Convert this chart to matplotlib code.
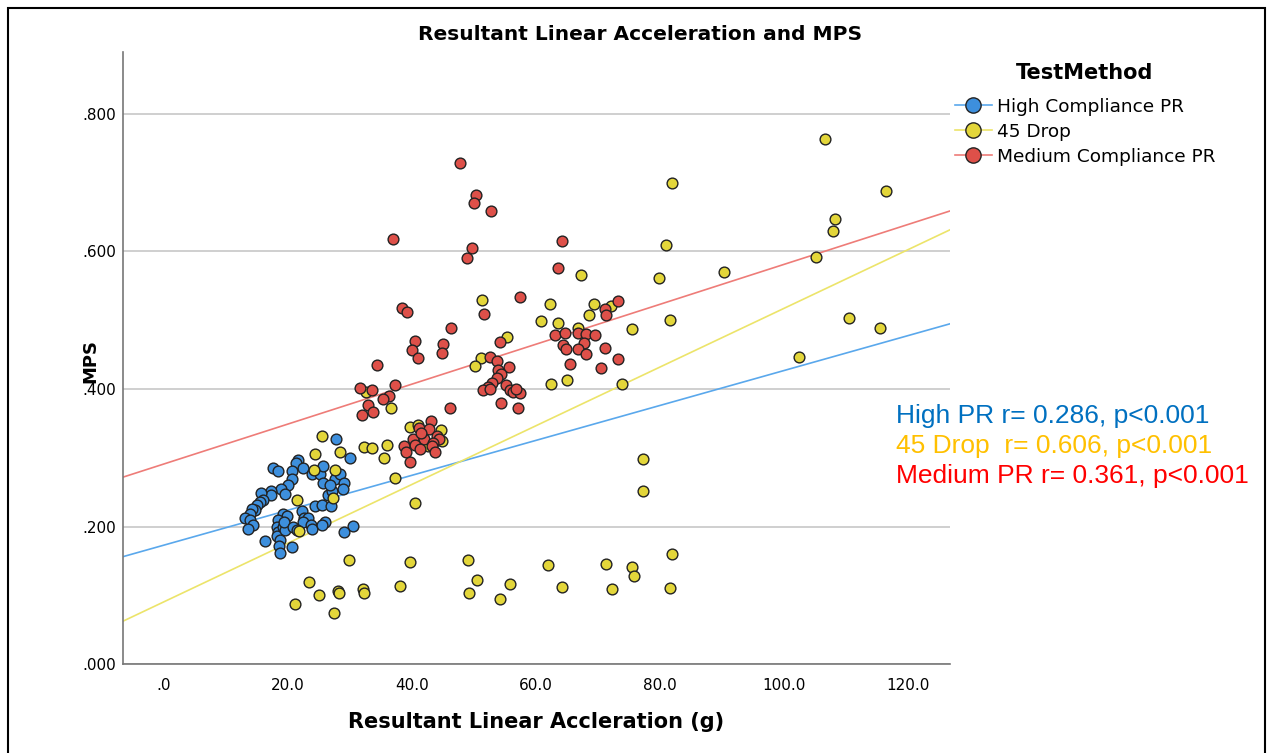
import matplotlib
matplotlib.use("Agg")
import matplotlib.pyplot as plt
import numpy as np
from matplotlib.lines import Line2D
from matplotlib.patches import Rectangle
from matplotlib.ticker import FuncFormatter

# High Compliance PR
high_x = [27.85, 30.0, 21.66, 21.29, 17.53, 18.44, 20.6, 22.47, 23.82, 25.16, 25.6, 28.11,
          20.6, 20.05, 18.82, 19.52, 17.21, 17.21, 15.6, 15.92, 15.48, 14.95, 14.68, 14.15,
          13.87, 13.06, 13.87, 14.31, 13.6, 16.29, 19.24, 19.79, 18.44, 18.18, 18.44, 18.27,
          18.71, 18.6, 20.6, 18.71, 19.24, 19.52, 19.35, 22.21, 22.58, 23.27, 22.47, 23.66,
          23.82, 20.85, 21.4, 24.35, 25.44, 26.89, 26.5, 27.05, 25.69, 27.58, 28.39, 29.03,
          28.92, 26.77, 25.97, 25.44, 30.53, 29.03]
high_y = [0.327, 0.299, 0.297, 0.292, 0.285, 0.281, 0.281, 0.285, 0.277, 0.276, 0.288, 0.277,
          0.269, 0.260, 0.254, 0.248, 0.251, 0.246, 0.249, 0.239, 0.236, 0.231, 0.224, 0.225,
          0.219, 0.212, 0.209, 0.202, 0.197, 0.179, 0.219, 0.215, 0.209, 0.200, 0.192, 0.186,
          0.180, 0.172, 0.170, 0.161, 0.200, 0.195, 0.207, 0.222, 0.213, 0.213, 0.206, 0.202,
          0.197, 0.200, 0.195, 0.230, 0.231, 0.230, 0.246, 0.251, 0.263, 0.269, 0.277, 0.263,
          0.254, 0.260, 0.207, 0.202, 0.201, 0.192]

# 45 Drop
drop_x = [25.44, 24.35, 28.39, 32.26, 33.5, 24.19, 27.58, 21.4, 27.21, 21.77, 29.92, 23.39,
          25.05, 21.13, 28.11, 28.19, 27.42, 32.18, 32.26, 36.02, 35.48, 36.61, 32.69, 37.26,
          40.48, 39.76, 41.02, 44.79, 44.84, 42.63, 39.68, 38.06, 49.08, 50.53, 49.24, 54.19,
          55.92, 61.98, 64.24, 71.4, 72.31, 75.53, 75.81, 81.98, 81.61, 77.31, 77.31, 62.53,
          65.11, 73.98, 51.4, 55.32, 51.13, 50.16, 67.37, 62.26, 60.85, 63.6, 69.4, 68.6,
          72.1, 66.82, 75.48, 106.6, 82.05, 116.45, 108.27, 107.95, 80.97, 105.27, 79.89,
          90.32, 81.73, 110.48, 115.6, 102.47]
drop_y = [0.332, 0.306, 0.308, 0.316, 0.314, 0.282, 0.282, 0.239, 0.242, 0.193, 0.151, 0.120,
          0.101, 0.087, 0.107, 0.103, 0.074, 0.109, 0.104, 0.319, 0.300, 0.372, 0.396, 0.270,
          0.234, 0.345, 0.348, 0.340, 0.324, 0.317, 0.149, 0.114, 0.151, 0.123, 0.104, 0.095,
          0.116, 0.144, 0.112, 0.146, 0.109, 0.141, 0.128, 0.160, 0.110, 0.298, 0.251, 0.407,
          0.413, 0.407, 0.530, 0.476, 0.445, 0.433, 0.566, 0.524, 0.499, 0.496, 0.523, 0.508,
          0.521, 0.488, 0.487, 0.763, 0.700, 0.688, 0.647, 0.629, 0.609, 0.592, 0.562,
          0.570, 0.501, 0.503, 0.488, 0.447]

# Medium Compliance PR
med_x = [47.74, 50.44, 50.05, 52.74, 36.98, 49.73, 48.98, 64.31, 63.6, 38.34, 39.24, 57.53,
         51.61, 46.29, 40.48, 40.11, 41.02, 45.05, 44.89, 34.31, 54.19, 52.58, 53.76, 55.69,
         53.92, 54.47, 53.76, 53.02, 52.31, 51.5, 52.69, 55.27, 55.81, 56.34, 57.53, 56.89,
         54.47, 57.15, 63.15, 64.76, 66.77, 68.18, 69.52, 67.79, 64.4, 64.95, 66.82, 68.18,
         71.24, 73.27, 65.48, 70.48, 71.13, 71.34, 73.27, 31.61, 33.5, 37.26, 36.29, 35.37,
         32.98, 31.94, 33.71, 46.24, 43.15, 41.24, 42.79, 40.27, 42.02, 44.11, 44.4, 43.44,
         43.18, 40.48, 38.71, 39.03, 41.37, 43.71, 39.79, 41.45]
med_y = [0.728, 0.682, 0.671, 0.659, 0.618, 0.605, 0.590, 0.615, 0.576, 0.518, 0.512, 0.534,
         0.509, 0.488, 0.470, 0.456, 0.445, 0.466, 0.453, 0.435, 0.468, 0.446, 0.441, 0.432,
         0.428, 0.422, 0.416, 0.409, 0.403, 0.398, 0.400, 0.406, 0.399, 0.395, 0.394, 0.400,
         0.380, 0.373, 0.478, 0.481, 0.481, 0.480, 0.479, 0.467, 0.464, 0.458, 0.458, 0.451,
         0.459, 0.443, 0.437, 0.430, 0.516, 0.508, 0.528, 0.402, 0.398, 0.406, 0.390, 0.385,
         0.377, 0.362, 0.366, 0.372, 0.354, 0.344, 0.342, 0.328, 0.327, 0.332, 0.328, 0.322,
         0.317, 0.319, 0.317, 0.308, 0.313, 0.309, 0.294, 0.336]

# fit lines (intercept, slope)
high_fit = [0.173, 0.002537]
drop_fit = [0.0906, 0.004264]
med_fit = [0.291, 0.0029]

groups = ["High Compliance PR", "45 Drop", "Medium Compliance PR"]
stats = ["High PR r= 0.286, p<0.001", "45 Drop  r= 0.606, p<0.001", "Medium PR r= 0.361, p<0.001"]

face = ["#3d8fdd", "#e3d63a", "#de5049"]
linec = ["#5aa8ec", "#ece46a", "#ee7c78"]
textc = ["#0070c0", "#ffc000", "#ff0000"]

fig = plt.figure(figsize=(12.68, 7.53), dpi=100)
ax = fig.add_axes([0.097, 0.118, 0.652, 0.813])

xlim = (-6.6, 126.8)
ax.set_xlim(*xlim)
ax.set_ylim(0, 0.89)
ax.set_yticks([0, 0.2, 0.4, 0.6, 0.8])
ax.set_xticks([0, 20, 40, 60, 80, 100, 120])
ax.yaxis.grid(True, color="#cfcfcf", lw=1.4)
ax.set_axisbelow(True)
for s in ["top", "right"]:
    ax.spines[s].set_visible(False)
for s in ["left", "bottom"]:
    ax.spines[s].set_color("#777777")
    ax.spines[s].set_linewidth(1.2)
ax.tick_params(axis="y", length=0, pad=5, labelsize=11)
ax.tick_params(axis="x", length=0, pad=10, labelsize=11)
ax.yaxis.set_major_formatter(FuncFormatter(lambda v, p: ("%.3f" % v).lstrip("0") if v != 0 else ".000"))
ax.xaxis.set_major_formatter(FuncFormatter(lambda v, p: ("%.1f" % v) if v != 0 else ".0"))

xs = np.array(xlim)
fits = [high_fit, drop_fit, med_fit]
for f, c in zip(fits, linec):
    ax.plot(xs, f[0] + f[1] * xs, color=c, lw=1.2, zorder=2)

for gx, gy, fc in [(high_x, high_y, face[0]), (drop_x, drop_y, face[1]), (med_x, med_y, face[2])]:
    ax.scatter(gx, gy, s=60, c=fc, edgecolors="#222222", linewidths=1.0, zorder=3)

fig.text(0.505, 0.954, "Resultant Linear Acceleration and MPS", fontsize=14.5,
         fontweight="bold", ha="center", va="center")
ax.set_xlabel("Resultant Linear Accleration (g)", fontsize=15, fontweight="bold", labelpad=14)
ax.set_ylabel("MPS", fontsize=13, fontweight="bold")
ax.yaxis.set_label_coords(-0.028, 0.496)

handles = [Line2D([0], [0], color=linec[i], lw=1.2, marker="o", markersize=11,
                  markerfacecolor=face[i], markeredgecolor="#222222") for i in range(3)]
fig.text(1085 / 1268, 1 - 73 / 753, "TestMethod", fontsize=15, fontweight="bold",
         ha="center", va="center")
leg = fig.legend(handles, groups, loc="upper left", bbox_to_anchor=(0.753, 0.870),
                 frameon=False, fontsize=13.3, handlelength=2.0, borderpad=0,
                 handletextpad=0.3, labelspacing=0.38, borderaxespad=0)

for i in range(3):
    fig.text(0.707, 0.448 - i * 0.04, stats[i], color=textc[i], fontsize=19,
             family=["Liberation Sans", "DejaVu Sans"], va="center")

fig.patches.append(Rectangle((0.006, -0.01), 0.992, 1.0, transform=fig.transFigure,
                             fill=False, edgecolor="black", lw=1.5))

fig.savefig("out.png", dpi=100)
